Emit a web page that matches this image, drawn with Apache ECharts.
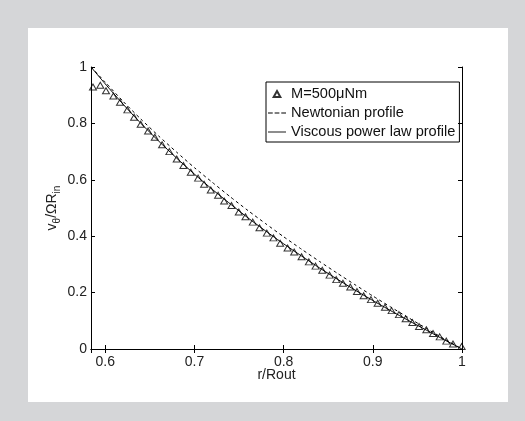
<!DOCTYPE html>
<html>
<head>
<meta charset="utf-8">
<script src="https://cdn.jsdelivr.net/npm/echarts@6/dist/echarts.min.js"></script>
<style>
html, body { margin: 0; padding: 0; background: #d5d6d8; }
#panel { position: absolute; left: 28px; top: 28px; width: 480px; height: 374px; background: #fff; }
#chart { position: absolute; left: 0; top: 0; width: 525px; height: 421px; }
</style>
</head>
<body>
<div id="panel"></div>
<div id="chart"></div>
<script>
// measured profile, M = 500 uNm
var rMeas = [0.5862, 0.5944, 0.6008, 0.6091, 0.6165, 0.6248, 0.6323, 0.6397, 0.6480, 0.6555,
             0.6637, 0.6719, 0.6801, 0.6876, 0.6959, 0.7041, 0.7108, 0.7183, 0.7265, 0.7333,
             0.7415, 0.7497, 0.7572, 0.7654, 0.7729, 0.7812, 0.7886, 0.7961, 0.8044, 0.8118,
             0.8201, 0.8283, 0.8358, 0.8433, 0.8515, 0.8590, 0.8665, 0.8747, 0.8822, 0.8897,
             0.8979, 0.9054, 0.9136, 0.9211, 0.9293, 0.9368, 0.9443, 0.9518, 0.9600, 0.9675,
             0.9750, 0.9824, 0.9899, 0.9996];
var vMeas = [0.929, 0.935, 0.916, 0.897, 0.875, 0.848, 0.822, 0.797, 0.773, 0.751,
             0.724, 0.700, 0.674, 0.651, 0.627, 0.606, 0.584, 0.564, 0.545, 0.525,
             0.509, 0.486, 0.469, 0.450, 0.430, 0.411, 0.394, 0.375, 0.358, 0.344,
             0.327, 0.309, 0.294, 0.279, 0.262, 0.246, 0.233, 0.220, 0.204, 0.189,
             0.175, 0.162, 0.148, 0.136, 0.122, 0.107, 0.094, 0.080, 0.068, 0.055,
             0.043, 0.028, 0.018, 0.009];

// model curves
var rFit = [0.584, 0.60, 0.62, 0.64, 0.66, 0.68, 0.70, 0.72, 0.74, 0.76, 0.78,
            0.80, 0.82, 0.84, 0.86, 0.88, 0.90, 0.92, 0.94, 0.96, 0.98, 1.00];
var vNewton = [1.000, 0.946, 0.878, 0.815, 0.755, 0.698, 0.643, 0.591, 0.540, 0.491, 0.444,
               0.398, 0.354, 0.311, 0.269, 0.228, 0.188, 0.149, 0.111, 0.073, 0.036, 0.000];
var vPower = [1.000, 0.940, 0.868, 0.800, 0.737, 0.677, 0.620, 0.566, 0.515, 0.465, 0.418,
              0.373, 0.330, 0.288, 0.248, 0.209, 0.172, 0.136, 0.101, 0.067, 0.033, 0.000];

var names = ['M=500\u03bcNm', 'Newtonian profile', 'Viscous power law profile'];

function zip(xs, ys) {
    var out = [];
    for (var i = 0; i < xs.length; i++) out.push([xs[i], ys[i]]);
    return out;
}

var font = 'Liberation Sans, Arial, Helvetica, sans-serif';
var myChart = echarts.init(document.getElementById('chart'));

var frameAxis = {
    axisLine: { show: true, lineStyle: { color: '#000', width: 1 } },
    axisTick: { show: true, inside: true, length: 4, lineStyle: { color: '#000' } },
    splitLine: { show: false }
};

var option = {
    animation: false,
    grid: { left: 91, right: 63, top: 67, bottom: 72 },
    xAxis: [
        Object.assign({
            type: 'value', min: 0.584, max: 1, position: 'bottom',
            name: 'r/Rout', nameLocation: 'middle', nameGap: 19, nameMoveOverlap: false,
            nameTextStyle: { fontFamily: font, fontSize: 14, color: '#222' },
            axisLabel: { showMinLabel: false, margin: 6, fontFamily: font, fontSize: 14, color: '#222' }
        }, frameAxis),
        Object.assign({
            type: 'value', min: 0.584, max: 1, position: 'top',
            axisLabel: { show: false }
        }, frameAxis)
    ],
    yAxis: [
        Object.assign({
            type: 'value', min: 0, max: 1, interval: 0.2, position: 'left',
            name: '{a|v}{s|\u03b8}{a|/\u03a9R}{s|in}', nameLocation: 'middle', nameGap: 29,
            nameMoveOverlap: false,
            nameTextStyle: {
                fontFamily: font, fontSize: 14, color: '#222',
                rich: {
                    a: { fontFamily: font, fontSize: 14, color: '#222' },
                    s: { fontFamily: font, fontSize: 10, color: '#222', padding: [10, 0, 0, 0] }
                }
            },
            axisLabel: { margin: 4, fontFamily: font, fontSize: 14, color: '#222' }
        }, frameAxis),
        Object.assign({
            type: 'value', min: 0, max: 1, interval: 0.2, position: 'right',
            axisLabel: { show: false }
        }, frameAxis)
    ],
    legend: {
        orient: 'vertical',
        left: 266, top: 82,
        padding: [4, 4, 2, 2],
        itemGap: 3,
        itemWidth: 18,
        itemHeight: 6,
        borderColor: '#000',
        borderWidth: 1,
        borderRadius: 0,
        selectedMode: false,
        textStyle: { fontFamily: font, fontSize: 14.6, color: '#111', lineHeight: 16 },
        data: [
            { name: names[0], icon: 'path://M5,0L10,9L0,9Z' },
            { name: names[1], icon: 'path://M0,0h5v1h-5zM7,0h5v1h-5zM14,0h5v1h-5z' },
            { name: names[2], icon: 'path://M0,0h20v1h-20z' }
        ]
    },
    series: [
        {
            name: names[0],
            type: 'scatter',
            symbol: 'triangle',
            symbolSize: [7, 6],
            itemStyle: { color: 'rgba(0,0,0,0)', borderColor: '#000', borderWidth: 1 },
            data: zip(rMeas, vMeas),
            z: 3
        },
        {
            name: names[1],
            type: 'line',
            symbol: 'none',
            smooth: 0.2,
            itemStyle: { color: '#000' },
            lineStyle: { color: '#000', width: 1, type: [3, 3] },
            data: zip(rFit, vNewton)
        },
        {
            name: names[2],
            type: 'line',
            symbol: 'none',
            smooth: 0.2,
            itemStyle: { color: '#000' },
            lineStyle: { color: '#000', width: 1 },
            data: zip(rFit, vPower)
        }
    ]
};

myChart.setOption(option);
</script>
</body>
</html>
